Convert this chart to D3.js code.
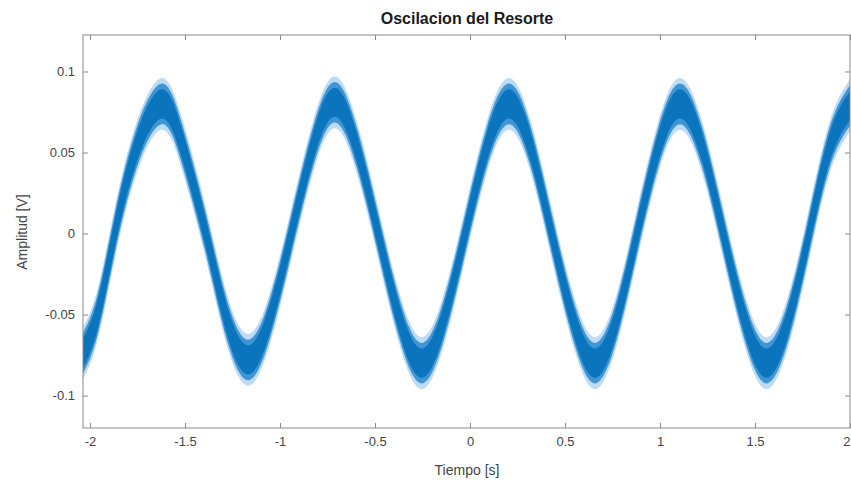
<!DOCTYPE html>
<html>
<head>
<meta charset="utf-8">
<script src="https://cdn.jsdelivr.net/npm/d3@7"></script>
<style>
  body { margin: 0; background: #fff; }
  text { font-family: "Liberation Sans", Arial, sans-serif; }
</style>
</head>
<body>
<div id="chart"></div>
<script>
'use strict'

// values (centre of the noisy band)
var tiempo = [-2.037, -1.96, -1.87, -1.76, -1.623, -1.51, -1.39, -1.28, -1.168,
  -1.055, -0.94, -0.825, -0.712, -0.598, -0.483, -0.368, -0.254, -0.14, -0.025,
  0.09, 0.205, 0.318, 0.43, 0.545, 0.658, 0.77, 0.88, 0.993, 1.105, 1.22, 1.333,
  1.447, 1.561, 1.675, 1.785, 1.895, 2.0]
var amplitud = [-0.074, -0.050, 0.0, 0.051, 0.080, 0.053, 0.0, -0.053, -0.078,
  -0.053, 0.0, 0.054, 0.081, 0.054, 0.0, -0.054, -0.080, -0.054, 0.0,
  0.054, 0.080, 0.054, 0.0, -0.054, -0.080, -0.054, 0.0, 0.054, 0.080, 0.054, 0.0,
  -0.054, -0.080, -0.054, 0.0, 0.054, 0.079]
// half-width of the noise around the centre, outer fuzz to dense core
var ruido = [0.016, 0.0125, 0.009]

var xTicks = [-2, -1.5, -1, -0.5, 0, 0.5, 1, 1.5, 2]
var yTicks = [-0.1, -0.05, 0, 0.05, 0.1]

var width = 851
var height = 481
var pLeft = 83
var pRight = 850
var pTop = 35
var pBottom = 428

var svg = d3.select('#chart').append('svg')
  .attr('width', width)
  .attr('height', height)

var x = d3.scaleLinear().domain([-2.037, 2.0]).range([pLeft, pRight])
var y = d3.scaleLinear().domain([-0.12, 0.1225]).range([pBottom, pTop])

var data = tiempo.map((t, i) => ({ t: t, v: amplitud[i] }))

svg.append('clipPath').attr('id', 'clip')
  .append('rect')
  .attr('x', pLeft).attr('y', pTop)
  .attr('width', pRight - pLeft).attr('height', pBottom - pTop)

var fills = ['#6cb0e4', '#2a88cf', '#0a74bd']
var opac = [0.45, 0.85, 1]

var plot = svg.append('g').attr('clip-path', 'url(#clip)')
ruido.forEach(function (r, k) {
  var band = d3.area()
    .curve(d3.curveNatural)
    .x(d => x(d.t))
    .y0(d => y(d.v - r))
    .y1(d => y(d.v + r))
  plot.append('path')
    .datum(data)
    .attr('d', band)
    .attr('fill', fills[k])
    .attr('fill-opacity', opac[k])
})

var fmt = d => String(d)
var axisColor = '#8a8a8a'

var gx = svg.append('g')
  .attr('transform', 'translate(0,' + pBottom + ')')
  .call(d3.axisBottom(x).tickValues(xTicks).tickFormat(fmt).tickSize(-5).tickPadding(9))
var gxTop = svg.append('g')
  .attr('transform', 'translate(0,' + pTop + ')')
  .call(d3.axisTop(x).tickValues(xTicks).tickFormat('').tickSize(-5))
var gy = svg.append('g')
  .attr('transform', 'translate(' + pLeft + ',0)')
  .call(d3.axisLeft(y).tickValues(yTicks).tickFormat(fmt).tickSize(-5).tickPadding(8))
var gyRight = svg.append('g')
  .attr('transform', 'translate(' + pRight + ',0)')
  .call(d3.axisRight(y).tickValues(yTicks).tickFormat('').tickSize(-5))

;[gx, gxTop, gy, gyRight].forEach(function (g) {
  g.select('.domain').remove()
  g.selectAll('line').attr('stroke', axisColor)
  g.selectAll('text').attr('fill', '#444').style('font-size', '13px')
})
// the last x label sits on the window edge; keep it inside
gx.selectAll('.tick').filter(d => d === 2).select('text')
  .attr('text-anchor', 'end')

svg.append('rect')
  .attr('x', pLeft).attr('y', pTop)
  .attr('width', pRight - pLeft).attr('height', pBottom - pTop)
  .attr('fill', 'none')
  .attr('stroke', axisColor)
  .attr('stroke-width', 1)

svg.append('text')
  .attr('x', 467).attr('y', 24)
  .attr('text-anchor', 'middle')
  .style('font-size', '16px')
  .style('font-weight', 'bold')
  .attr('fill', '#1a1a1a')
  .text('Oscilacion del Resorte')

svg.append('text')
  .attr('x', 467).attr('y', 475)
  .attr('text-anchor', 'middle')
  .style('font-size', '14px')
  .attr('fill', '#444')
  .text('Tiempo [s]')

svg.append('text')
  .attr('transform', 'translate(27,232) rotate(-90)')
  .attr('text-anchor', 'middle')
  .style('font-size', '14px')
  .attr('fill', '#444')
  .text('Amplitud [V]')
</script>
</body>
</html>
